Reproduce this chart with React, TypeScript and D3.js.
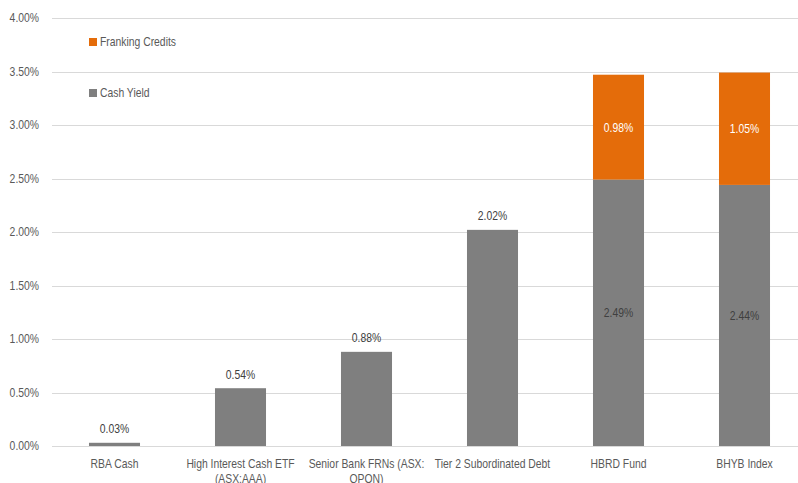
import React from "react";
import * as d3 from "d3";

const categories: string[][] = [
  ["RBA Cash"],
  ["High Interest Cash ETF", "(ASX:AAA)"],
  ["Senior Bank FRNs (ASX:", "QPON)"],
  ["Tier 2 Subordinated Debt"],
  ["HBRD Fund"],
  ["BHYB Index"],
];
const cashYield = [0.03, 0.54, 0.88, 2.02, 2.49, 2.44];
const frankingCredits = [0, 0, 0, 0, 0.98, 1.05];
const yTicks = [0, 0.5, 1, 1.5, 2, 2.5, 3, 3.5, 4];

const W = 798;
const H = 483;
const FONT = "'Liberation Sans', Arial, sans-serif";
const GRAY = "#7f7f7f";
const ORANGE = "#e46c0a";
const SX = 0.83;

function T({ x, y, anchor = "start", fill = "#595959", size = 12.5, children }: any) {
  return (
    <text
      transform={`translate(${x},${y}) scale(${SX},1)`}
      dy="0.35em"
      textAnchor={anchor}
      fontSize={size}
      fill={fill}
    >
      {children}
    </text>
  );
}

export default function App() {
  const y = d3.scaleLinear().domain([0, 4]).range([446, 18]);
  const x = d3
    .scaleBand<number>()
    .domain(categories.map((_, i) => i))
    .range([51.5, 807.5])
    .paddingInner(0.595)
    .paddingOuter(0.2975);
  const bw = x.bandwidth();
  const fmt = (v: number) => v.toFixed(2) + "%";

  return (
    <svg
      width={W}
      height={H}
      style={{ position: "absolute", left: 0, top: 0, background: "#fff" }}
      fontFamily={FONT}
    >
      {yTicks.map((t) => (
        <g key={t}>
          <line x1={52} x2={W} y1={Math.round(y(t)) + 0.5} y2={Math.round(y(t)) + 0.5} stroke="#d9d9d9" strokeWidth={1} />
          <T x={39} y={y(t)} anchor="end">{fmt(t)}</T>
        </g>
      ))}
      {categories.map((lines, i) => {
        const x0 = x(i)!;
        const cx = x0 + bw / 2;
        const c = cashYield[i];
        const f = frankingCredits[i];
        const stacked = f > 0;
        return (
          <g key={i}>
            <rect x={x0} width={bw} y={y(c)} height={y(0) - y(c)} fill={GRAY} />
            {stacked && (
              <rect x={x0} width={bw} y={y(c + f)} height={y(c) - y(c + f)} fill={ORANGE} />
            )}
            {stacked ? (
              <>
                <T x={cx} y={(y(0) + y(c)) / 2} anchor="middle" fill="#404040">{fmt(c)}</T>
                <T x={cx} y={(y(c) + y(c + f)) / 2} anchor="middle" fill="#fff">{fmt(f)}</T>
              </>
            ) : (
              <T x={cx} y={y(c) - 14} anchor="middle" fill="#404040">{fmt(c)}</T>
            )}
            {lines.map((ln, j) => (
              <T key={j} x={cx} y={464 + j * 15} anchor="middle">{ln}</T>
            ))}
          </g>
        );
      })}
      <rect x={89} y={38} width={8} height={8} fill={ORANGE} />
      <T x={100} y={42}>Franking Credits</T>
      <rect x={89} y={89} width={8} height={8} fill={GRAY} />
      <T x={100} y={93}>Cash Yield</T>
    </svg>
  );
}
